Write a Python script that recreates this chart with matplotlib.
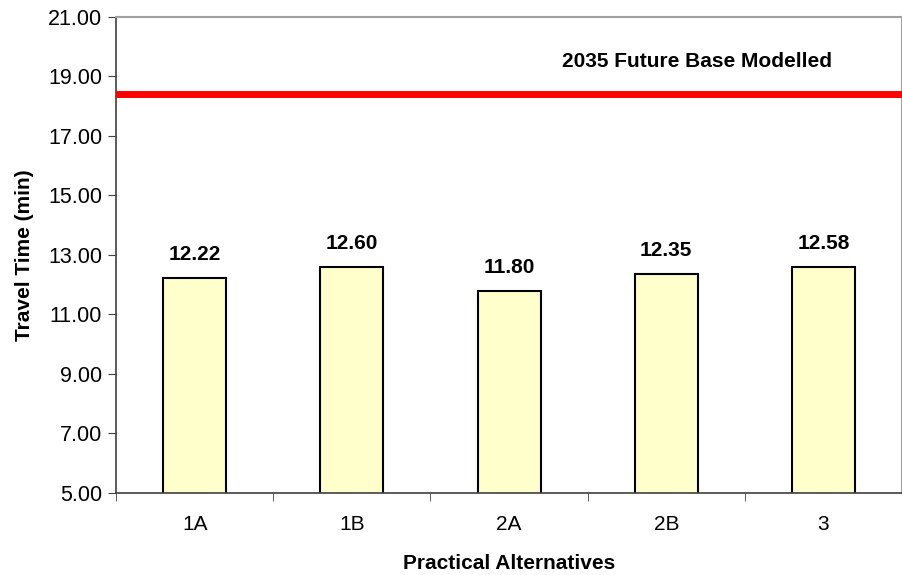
import matplotlib.pyplot as plt

plt.rcParams['font.family'] = ['Liberation Sans', 'DejaVu Sans']

alternatives = ['1A', '1B', '2A', '2B', '3']
travel_time = [12.22, 12.60, 11.80, 12.35, 12.58]
future_base = 18.4
yticks = [5, 7, 9, 11, 13, 15, 17, 19, 21]

fig = plt.figure(figsize=(9.03, 5.75), dpi=100)
ax = fig.add_axes([0.1285, 0.1426, 0.8705, 0.8284])

x = range(len(alternatives))
ax.bar(x, travel_time, width=0.4, color='#FFFFCC', edgecolor='black', linewidth=1.5, zorder=2)
for xi, v in zip(x, travel_time):
    ax.annotate('%.2f' % v, (xi, v), xytext=(0, 13), textcoords='offset points',
                ha='center', va='baseline', fontsize=15, fontweight='bold')

ax.axhline(future_base, color='#FF0000', linewidth=5, zorder=3)
ax.text(0.739, 0.894, '2035 Future Base Modelled', transform=ax.transAxes,
        ha='center', va='baseline', fontsize=15, fontweight='bold')

ax.set_xlim(-0.5, len(alternatives) - 0.5)
ax.set_ylim(5, 21)
ax.set_yticks(yticks)
ax.set_yticklabels(['%.2f' % t for t in yticks], fontsize=15.5)
ax.set_xticks(list(x))
ax.set_xticklabels(alternatives, fontsize=15)
ax.tick_params(axis='x', length=0, pad=16)
ax.set_xticks([i + 0.5 for i in range(len(alternatives) - 1)] + [-0.5], minor=True)
ax.tick_params(axis='x', which='minor', length=6, direction='out', color='#404040')
ax.tick_params(axis='y', length=6, direction='out', color='#404040', pad=4)

for s in ['left', 'bottom']:
    ax.spines[s].set_color('#404040')
    ax.spines[s].set_linewidth(1.2)
for s in ['top', 'right']:
    ax.spines[s].set_color('#A0A0A0')
    ax.spines[s].set_linewidth(1.5)

ax.set_ylabel('Travel Time (min)', fontsize=15, fontweight='bold', labelpad=10)
ax.set_xlabel('Practical Alternatives', fontsize=15, fontweight='bold', labelpad=14)

fig.savefig('out.png', dpi=100)
